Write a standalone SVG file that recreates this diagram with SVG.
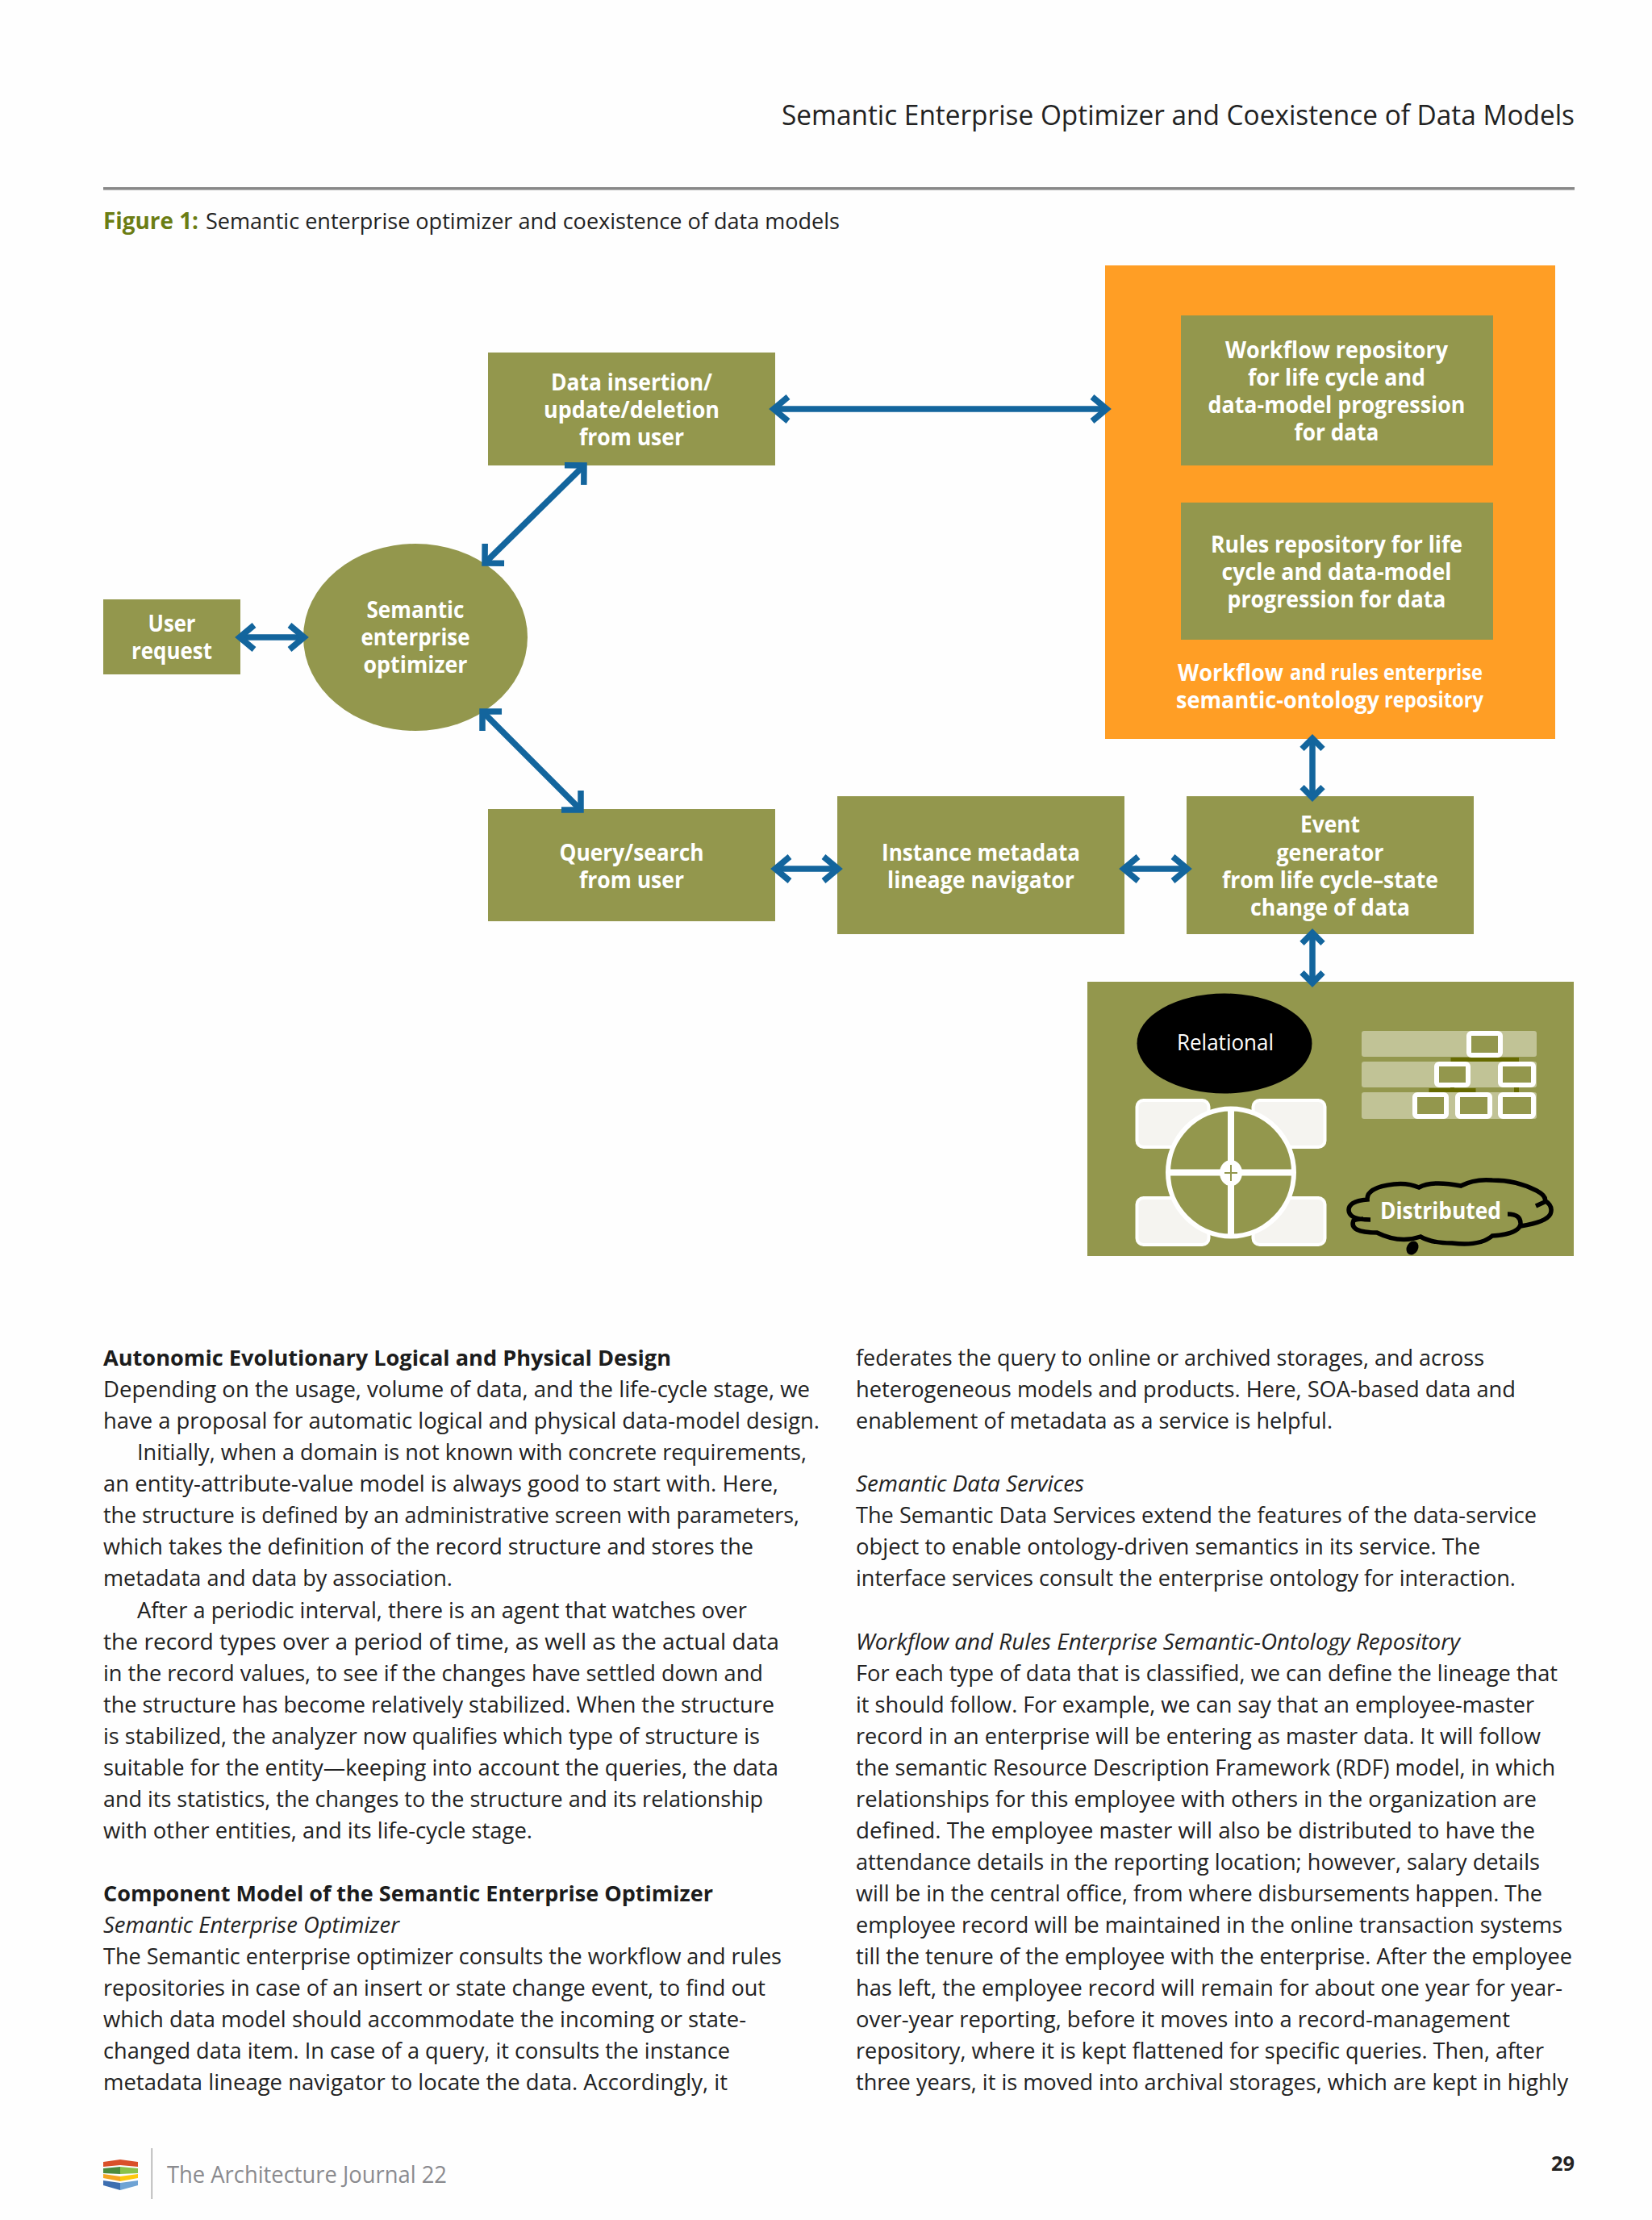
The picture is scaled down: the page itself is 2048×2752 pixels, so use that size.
<svg xmlns="http://www.w3.org/2000/svg" width="2048" height="2752" viewBox="0 0 2048 2752">
<style>
text{font-family:"Open Sans","Noto Sans","Liberation Sans",sans-serif}
.b{font-size:27.5px;fill:#222;font-weight:400}
.bh{font-size:27.5px;fill:#1c1c1c;font-weight:700}
.bi{font-size:27.5px;fill:#222;font-style:italic}
.l{font-size:29px;font-weight:700;fill:#fff;text-anchor:middle;transform:translateY(.7px)}
.ls{font-size:26px;font-weight:700;fill:#fff}
.ol{fill:#93974d}
.c{fill:none;stroke:#13659d;stroke-width:7.5}
.bar{fill:#c1c396}
.sb{fill:#93974d;stroke:#fff;stroke-width:6}
.wr{fill:#f5f4f0;stroke:#fff;stroke-width:4}
.dk{fill:#666a00}
</style>
<defs>
<marker id="s" markerUnits="userSpaceOnUse" viewBox="-30 -22 40 44" markerWidth="40" markerHeight="44" refX="0" refY="0" orient="auto-start-reverse" overflow="visible"><path d="M-19,-15 L-1,0 L-19,15" fill="none" stroke="#13659d" stroke-width="7.5" stroke-linejoin="miter"/></marker>
<marker id="d" markerUnits="userSpaceOnUse" viewBox="-30 -22 40 44" markerWidth="40" markerHeight="44" refX="0" refY="0" orient="auto-start-reverse" overflow="visible"><path d="M-17,-17 L0,0 L-17,17" fill="none" stroke="#13659d" stroke-width="7.5" stroke-linejoin="miter"/></marker>
<marker id="v" markerUnits="userSpaceOnUse" viewBox="-30 -22 40 44" markerWidth="40" markerHeight="44" refX="0" refY="0" orient="auto-start-reverse" overflow="visible"><path d="M-13,-13 L0,0 L-13,13" fill="none" stroke="#13659d" stroke-width="7.5" stroke-linejoin="miter"/></marker>
</defs>
<rect width="2048" height="2752" fill="#fefefe"/>
<g id="header">
<text x="1952" y="155" text-anchor="end" font-size="34" fill="#222" textLength="983" lengthAdjust="spacingAndGlyphs">Semantic Enterprise Optimizer and Coexistence of Data Models</text>
<rect x="128" y="232" width="1824" height="3.5" fill="#888"/>
<text x="128" y="284" font-size="28" font-weight="700" fill="#6b7d14" textLength="118" lengthAdjust="spacingAndGlyphs">Figure 1:</text>
<text x="255" y="284" font-size="28" fill="#222" textLength="786" lengthAdjust="spacingAndGlyphs">Semantic enterprise optimizer and coexistence of data models</text>
</g>
<g id="repository">
<rect x="1370" y="329" width="558" height="587" fill="#ff9e25"/>
<text class="l" x="1525.500" y="843" textLength="131" lengthAdjust="spacingAndGlyphs">Workflow</text>
<text class="ls" x="1599" y="843" textLength="239" lengthAdjust="spacingAndGlyphs">and rules enterprise</text>
<text class="l" x="1584" y="877" textLength="252" lengthAdjust="spacingAndGlyphs">semantic-ontology</text>
<text class="ls" x="1716" y="877" textLength="123" lengthAdjust="spacingAndGlyphs">repository</text>
</g>
<g id="workflow-repo">
<rect class="ol" x="1464" y="391" width="387" height="186"/>
<text class="l" x="1657" y="443" textLength="276" lengthAdjust="spacingAndGlyphs">Workflow repository</text>
<text class="l" x="1657" y="477" textLength="220" lengthAdjust="spacingAndGlyphs">for life cycle and</text>
<text class="l" x="1657" y="511" textLength="319" lengthAdjust="spacingAndGlyphs">data-model progression</text>
<text class="l" x="1657" y="545" textLength="105" lengthAdjust="spacingAndGlyphs">for data</text>
</g>
<g id="rules-repo">
<rect class="ol" x="1464" y="623" width="387" height="170"/>
<text class="l" x="1657" y="684" textLength="312" lengthAdjust="spacingAndGlyphs">Rules repository for life</text>
<text class="l" x="1657" y="718" textLength="285" lengthAdjust="spacingAndGlyphs">cycle and data-model</text>
<text class="l" x="1657" y="752" textLength="271" lengthAdjust="spacingAndGlyphs">progression for data</text>
</g>
<g id="user-request">
<rect class="ol" x="128" y="743" width="170" height="93"/>
<text class="l" x="213" y="782" textLength="59" lengthAdjust="spacingAndGlyphs">User</text>
<text class="l" x="213" y="816" textLength="100" lengthAdjust="spacingAndGlyphs">request</text>
</g>
<g id="optimizer">
<ellipse class="ol" cx="515" cy="790" rx="139" ry="116"/>
<text class="l" x="515" y="765" textLength="121" lengthAdjust="spacingAndGlyphs">Semantic</text>
<text class="l" x="515" y="799" textLength="135" lengthAdjust="spacingAndGlyphs">enterprise</text>
<text class="l" x="515" y="833" textLength="129" lengthAdjust="spacingAndGlyphs">optimizer</text>
</g>
<g id="data-insertion">
<rect class="ol" x="605" y="437" width="356" height="140"/>
<text class="l" x="783" y="483" textLength="200" lengthAdjust="spacingAndGlyphs">Data insertion/</text>
<text class="l" x="783" y="517" textLength="218" lengthAdjust="spacingAndGlyphs">update/deletion</text>
<text class="l" x="783" y="551" textLength="130" lengthAdjust="spacingAndGlyphs">from user</text>
</g>
<g id="query">
<rect class="ol" x="605" y="1003" width="356" height="139"/>
<text class="l" x="783" y="1066" textLength="179" lengthAdjust="spacingAndGlyphs">Query/search</text>
<text class="l" x="783" y="1100" textLength="130" lengthAdjust="spacingAndGlyphs">from user</text>
</g>
<g id="instance">
<rect class="ol" x="1038" y="987" width="356" height="171"/>
<text class="l" x="1216" y="1066" textLength="246" lengthAdjust="spacingAndGlyphs">Instance metadata</text>
<text class="l" x="1216" y="1100" textLength="232" lengthAdjust="spacingAndGlyphs">lineage navigator</text>
</g>
<g id="event">
<rect class="ol" x="1471" y="987" width="356" height="171"/>
<text class="l" x="1649" y="1031" textLength="74" lengthAdjust="spacingAndGlyphs">Event</text>
<text class="l" x="1649" y="1066" textLength="133" lengthAdjust="spacingAndGlyphs">generator</text>
<text class="l" x="1649" y="1100" textLength="268" lengthAdjust="spacingAndGlyphs">from life cycle–state</text>
<text class="l" x="1649" y="1134" textLength="198" lengthAdjust="spacingAndGlyphs">change of data</text>
</g>
<g id="data-stores">
<rect class="ol" x="1348" y="1217" width="603" height="340"/>
<ellipse cx="1518" cy="1293.500" rx="108.500" ry="62" fill="#000"/>
<text x="1519" y="1302" text-anchor="middle" font-size="28" fill="#fff" textLength="120" lengthAdjust="spacingAndGlyphs">Relational</text>
<rect class="wr" x="1409.500" y="1364" width="89" height="58" rx="8"/>
<rect class="wr" x="1553.500" y="1364" width="89" height="58" rx="8"/>
<rect class="wr" x="1409.500" y="1485" width="89" height="58" rx="8"/>
<rect class="wr" x="1553.500" y="1485" width="89" height="58" rx="8"/>
<ellipse cx="1526" cy="1453.500" rx="78" ry="79" fill="#93974d" stroke="#fff" stroke-width="6"/>
<path d="M1526,1374V1533M1447,1453.500H1605" stroke="#fff" stroke-width="8" fill="none"/>
<ellipse cx="1526" cy="1454" rx="11" ry="13" fill="#fff" stroke="#fff" stroke-width="6"/>
<path d="M1526,1444V1464M1518,1454H1534" stroke="#93974d" stroke-width="2" fill="none"/>
<rect class="bar" x="1688" y="1278" width="217" height="32" rx="3"/>
<rect class="bar" x="1688" y="1316" width="217" height="32" rx="3"/>
<rect class="bar" x="1688" y="1354" width="217" height="33" rx="3"/>
<path class="dk" d="M1798.500,1311H1883V1316H1798.500ZM1837.500,1307H1843V1311H1837.500ZM1771.500,1349H1829.500V1354H1771.500ZM1798,1345H1803V1349H1798ZM1877,1346H1883V1354H1877Z"/>
<rect class="sb" x="1821" y="1281" width="39" height="27" rx="3"/>
<rect class="sb" x="1781" y="1319" width="39" height="26" rx="3"/>
<rect class="sb" x="1860" y="1319" width="41" height="26" rx="3"/>
<rect class="sb" x="1754" y="1357" width="39" height="27" rx="3"/>
<rect class="sb" x="1807" y="1357" width="40" height="27" rx="3"/>
<rect class="sb" x="1860" y="1357" width="41" height="27" rx="3"/>
<path d="M1699,1512 Q1672,1512 1672,1500 Q1672,1489 1695,1487 Q1694,1472 1728,1468 Q1745,1466 1759,1472 Q1775,1463 1811,1470 Q1828,1461 1850,1463 Q1880,1463 1905,1476 Q1918,1483 1915,1490 L1904,1495 M1915,1488 Q1926,1495 1922,1505 Q1917,1515 1885,1520 M1869,1505 Q1886,1505 1885,1518 Q1882,1530 1850,1532 Q1835,1545 1800,1541 Q1775,1541 1761,1533 Q1735,1542 1707,1528 Q1672,1528 1678,1513 Q1682,1511 1690,1511" fill="none" stroke="#000" stroke-width="5.500"/>
<ellipse cx="1751" cy="1547" rx="7" ry="9" fill="#000" transform="rotate(30 1751 1547)"/>
<text x="1786" y="1511" text-anchor="middle" font-size="29" font-weight="700" fill="#fff" textLength="150" lengthAdjust="spacingAndGlyphs">Distributed</text>
</g>
<g id="connectors">
<path class="c" d="M296,790H378" marker-start="url(#s)" marker-end="url(#s)"/>
<path class="c" d="M724,577L601,698" marker-start="url(#d)" marker-end="url(#d)"/>
<path class="c" d="M598,882L720,1004" marker-start="url(#d)" marker-end="url(#d)"/>
<path class="c" d="M958,507H1373" marker-start="url(#s)" marker-end="url(#s)"/>
<path class="c" d="M960,1077H1040" marker-start="url(#s)" marker-end="url(#s)"/>
<path class="c" d="M1392,1077H1473" marker-start="url(#s)" marker-end="url(#s)"/>
<path class="c" d="M1627,915.300V988.700" marker-start="url(#v)" marker-end="url(#v)"/>
<path class="c" d="M1627,1156.300V1218.700" marker-start="url(#v)" marker-end="url(#v)"/>
</g>
<g id="body-left" transform="translate(0,3)">
<text class="bh" x="128" y="1690" textLength="704" lengthAdjust="spacingAndGlyphs">Autonomic Evolutionary Logical and Physical Design</text>
<text class="b" x="128" y="1729" textLength="876" lengthAdjust="spacingAndGlyphs">Depending on the usage, volume of data, and the life-cycle stage, we</text>
<text class="b" x="128" y="1768" textLength="888" lengthAdjust="spacingAndGlyphs">have a proposal for automatic logical and physical data-model design.</text>
<text class="b" x="170" y="1807" textLength="830" lengthAdjust="spacingAndGlyphs">Initially, when a domain is not known with concrete requirements,</text>
<text class="b" x="128" y="1846" textLength="837" lengthAdjust="spacingAndGlyphs">an entity-attribute-value model is always good to start with. Here,</text>
<text class="b" x="128" y="1885" textLength="863" lengthAdjust="spacingAndGlyphs">the structure is defined by an administrative screen with parameters,</text>
<text class="b" x="128" y="1924" textLength="806" lengthAdjust="spacingAndGlyphs">which takes the definition of the record structure and stores the</text>
<text class="b" x="128" y="1963" textLength="433" lengthAdjust="spacingAndGlyphs">metadata and data by association.</text>
<text class="b" x="170" y="2003" textLength="756" lengthAdjust="spacingAndGlyphs">After a periodic interval, there is an agent that watches over</text>
<text class="b" x="128" y="2042" textLength="838" lengthAdjust="spacingAndGlyphs">the record types over a period of time, as well as the actual data</text>
<text class="b" x="128" y="2081" textLength="818" lengthAdjust="spacingAndGlyphs">in the record values, to see if the changes have settled down and</text>
<text class="b" x="128" y="2120" textLength="832" lengthAdjust="spacingAndGlyphs">the structure has become relatively stabilized. When the structure</text>
<text class="b" x="128" y="2159" textLength="814" lengthAdjust="spacingAndGlyphs">is stabilized, the analyzer now qualifies which type of structure is</text>
<text class="b" x="128" y="2198" textLength="837" lengthAdjust="spacingAndGlyphs">suitable for the entity—keeping into account the queries, the data</text>
<text class="b" x="128" y="2237" textLength="818" lengthAdjust="spacingAndGlyphs">and its statistics, the changes to the structure and its relationship</text>
<text class="b" x="128" y="2276" textLength="532" lengthAdjust="spacingAndGlyphs">with other entities, and its life-cycle stage.</text>
<text class="bh" x="128" y="2354" textLength="756" lengthAdjust="spacingAndGlyphs">Component Model of the Semantic Enterprise Optimizer</text>
<text class="bi" x="128" y="2393" textLength="367" lengthAdjust="spacingAndGlyphs">Semantic Enterprise Optimizer</text>
<text class="b" x="128" y="2432" textLength="841" lengthAdjust="spacingAndGlyphs">The Semantic enterprise optimizer consults the workflow and rules</text>
<text class="b" x="128" y="2471" textLength="821" lengthAdjust="spacingAndGlyphs">repositories in case of an insert or state change event, to find out</text>
<text class="b" x="128" y="2510" textLength="797" lengthAdjust="spacingAndGlyphs">which data model should accommodate the incoming or state-</text>
<text class="b" x="128" y="2549" textLength="777" lengthAdjust="spacingAndGlyphs">changed data item. In case of a query, it consults the instance</text>
<text class="b" x="128" y="2588" textLength="774" lengthAdjust="spacingAndGlyphs">metadata lineage navigator to locate the data. Accordingly, it</text>
</g>
<g id="body-right" transform="translate(0,3)">
<text class="b" x="1061" y="1690" textLength="779" lengthAdjust="spacingAndGlyphs">federates the query to online or archived storages, and across</text>
<text class="b" x="1061" y="1729" textLength="818" lengthAdjust="spacingAndGlyphs">heterogeneous models and products. Here, SOA-based data and</text>
<text class="b" x="1061" y="1768" textLength="591" lengthAdjust="spacingAndGlyphs">enablement of metadata as a service is helpful.</text>
<text class="bi" x="1061" y="1846" textLength="283" lengthAdjust="spacingAndGlyphs">Semantic Data Services</text>
<text class="b" x="1061" y="1885" textLength="844" lengthAdjust="spacingAndGlyphs">The Semantic Data Services extend the features of the data-service</text>
<text class="b" x="1061" y="1924" textLength="774" lengthAdjust="spacingAndGlyphs">object to enable ontology-driven semantics in its service. The</text>
<text class="b" x="1061" y="1963" textLength="818" lengthAdjust="spacingAndGlyphs">interface services consult the enterprise ontology for interaction.</text>
<text class="bi" x="1061" y="2042" textLength="749" lengthAdjust="spacingAndGlyphs">Workflow and Rules Enterprise Semantic-Ontology Repository</text>
<text class="b" x="1061" y="2081" textLength="870" lengthAdjust="spacingAndGlyphs">For each type of data that is classified, we can define the lineage that</text>
<text class="b" x="1061" y="2120" textLength="841" lengthAdjust="spacingAndGlyphs">it should follow. For example, we can say that an employee-master</text>
<text class="b" x="1061" y="2159" textLength="849" lengthAdjust="spacingAndGlyphs">record in an enterprise will be entering as master data. It will follow</text>
<text class="b" x="1061" y="2198" textLength="867" lengthAdjust="spacingAndGlyphs">the semantic Resource Description Framework (RDF) model, in which</text>
<text class="b" x="1061" y="2237" textLength="844" lengthAdjust="spacingAndGlyphs">relationships for this employee with others in the organization are</text>
<text class="b" x="1061" y="2276" textLength="842" lengthAdjust="spacingAndGlyphs">defined. The employee master will also be distributed to have the</text>
<text class="b" x="1061" y="2315" textLength="848" lengthAdjust="spacingAndGlyphs">attendance details in the reporting location; however, salary details</text>
<text class="b" x="1061" y="2354" textLength="851" lengthAdjust="spacingAndGlyphs">will be in the central office, from where disbursements happen. The</text>
<text class="b" x="1061" y="2393" textLength="876" lengthAdjust="spacingAndGlyphs">employee record will be maintained in the online transaction systems</text>
<text class="b" x="1061" y="2432" textLength="888" lengthAdjust="spacingAndGlyphs">till the tenure of the employee with the enterprise. After the employee</text>
<text class="b" x="1061" y="2471" textLength="876" lengthAdjust="spacingAndGlyphs">has left, the employee record will remain for about one year for year-</text>
<text class="b" x="1061" y="2510" textLength="811" lengthAdjust="spacingAndGlyphs">over-year reporting, before it moves into a record-management</text>
<text class="b" x="1061" y="2549" textLength="853" lengthAdjust="spacingAndGlyphs">repository, where it is kept flattened for specific queries. Then, after</text>
<text class="b" x="1061" y="2588" textLength="883" lengthAdjust="spacingAndGlyphs">three years, it is moved into archival storages, which are kept in highly</text>
</g>
<g id="footer">
<polygon points="128,2680 149,2677 171,2680 171,2686 149,2684 128,2686" fill="#d9502a"/>
<polygon points="128,2688 149,2686 149,2695 128,2694" fill="#4b8a3c"/><polygon points="149,2686 171,2688 171,2694 149,2695" fill="#8ac24a"/>
<polygon points="128,2695 149,2698 149,2704 128,2700" fill="#f5a623"/><polygon points="149,2698 171,2695 171,2700 149,2704" fill="#fdc80f"/>
<polygon points="128,2703 149,2706 149,2715 128,2709" fill="#3d6eb0"/><polygon points="149,2706 171,2703 171,2709 149,2715" fill="#6fa3d4"/>
<rect x="187.500" y="2663" width="1.500" height="63" fill="#aaa"/>
<text x="207" y="2706" font-size="29" fill="#8a8a8e" textLength="347" lengthAdjust="spacingAndGlyphs">The Architecture Journal 22</text>
<text x="1952" y="2691" text-anchor="end" font-size="25" font-weight="700" fill="#222" textLength="29" lengthAdjust="spacingAndGlyphs">29</text>
</g>
</svg>
